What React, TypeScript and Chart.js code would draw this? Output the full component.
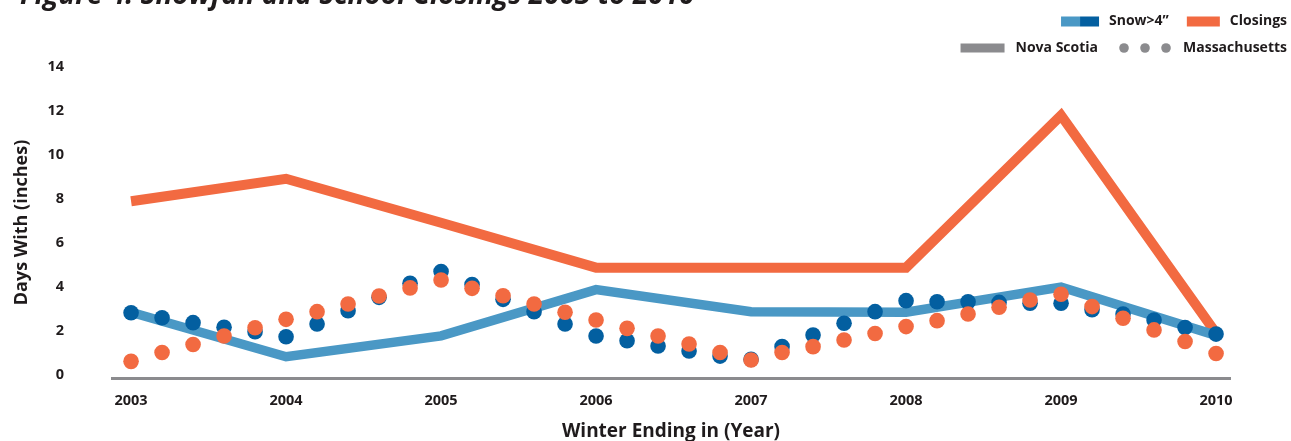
import React, { useEffect, useRef } from 'react';
import { Chart, registerables } from 'chart.js';

Chart.register(...registerables);

// ---------- data ----------
const TITLE = 'Figure 4: Snowfall and School Closings 2003 to 2010';
const Y_TITLE = 'Days With (inches)';
const X_TITLE = 'Winter Ending in (Year)';
const LEGEND_SERIES = ['Snow>4\u201D', 'Closings'];
const LEGEND_REGIONS = ['Nova Scotia', 'Massachusetts'];

const years = [2003, 2004, 2005, 2006, 2007, 2008, 2009, 2010];
const yTicks = [0, 2, 4, 6, 8, 10, 12, 14];

// Nova Scotia (one value per winter)
const nsSnow = [2.85, 0.83, 1.78, 3.88, 2.88, 2.85, 4.0, 1.8];
const nsClosings = [7.9, 8.92, 6.92, 4.88, 4.88, 4.88, 11.8, 1.9];

// Massachusetts (five readings per winter, 2003 .. 2010)
const maStep = 0.2;
const maSnow = [
  2.83, 2.6, 2.38, 2.17, 1.97, 1.74, 2.32, 2.92, 3.53, 4.17, 4.7, 4.11,
  3.44, 2.88, 2.32, 1.77, 1.56, 1.32, 1.09, 0.86, 0.71, 1.29, 1.82, 2.35,
  2.88, 3.38, 3.33, 3.33, 3.3, 3.26, 3.26, 2.97, 2.77, 2.5, 2.16, 1.86,
];
const maClosings = [
  0.62, 1.02, 1.39, 1.77, 2.15, 2.53, 2.88, 3.23, 3.59, 3.96, 4.32, 3.94,
  3.6, 3.23, 2.85, 2.5, 2.12, 1.77, 1.41, 1.02, 0.68, 1.02, 1.29, 1.59,
  1.89, 2.2, 2.47, 2.77, 3.08, 3.41, 3.67, 3.11, 2.58, 2.05, 1.52, 0.98,
];

// ---------- style ----------
const OY = 22; // canvas starts 22px above the page top
const W = 1291;
const H = 441 + OY;
const FONT = '"Open Sans", "Noto Sans", sans-serif';
const TEXT = '#1f1b1c';
const LIGHT_BLUE = '#4a98c5';
const DARK_BLUE = '#035fa0';
const ORANGE = '#f26a41';
const GRAY = '#8b8b8e';

const decorPlugin = {
  id: 'decor',
  afterDraw(chart: any) {
    const ctx: CanvasRenderingContext2D = chart.ctx;
    ctx.save();
    // title (cut off at the top of the page)
    ctx.font = `italic bold 28px ${FONT}`;
    ctx.fillStyle = TEXT;
    ctx.textAlign = 'left';
    ctx.textBaseline = 'alphabetic';
    ctx.fillText(TITLE, 20, 4 + OY);

    // legend
    ctx.font = `bold 14px ${FONT}`;
    ctx.textBaseline = 'middle';
    const right = 1287;
    // row 1
    const y1 = 21.5 + OY;
    const wClos = ctx.measureText(LEGEND_SERIES[1]).width;
    const closStart = right - wClos;
    ctx.fillStyle = TEXT;
    ctx.fillText(LEGEND_SERIES[1], closStart, y1);
    const oRight = closStart - 10;
    ctx.fillStyle = ORANGE;
    ctx.fillRect(oRight - 33, y1 - 5, 33, 10);
    const snowRight = oRight - 33 - 18;
    const wSnow = ctx.measureText(LEGEND_SERIES[0]).width;
    const snowStart = snowRight - wSnow;
    ctx.fillStyle = TEXT;
    ctx.fillText(LEGEND_SERIES[0], snowStart, y1);
    const bRight = snowStart - 10;
    ctx.fillStyle = DARK_BLUE;
    ctx.fillRect(bRight - 19, y1 - 5, 19, 10);
    ctx.fillStyle = LIGHT_BLUE;
    ctx.fillRect(bRight - 38, y1 - 5, 19, 10);

    // row 2
    const y2 = 48 + OY;
    const wMa = ctx.measureText(LEGEND_REGIONS[1]).width;
    const maStart = right - wMa;
    ctx.fillStyle = TEXT;
    ctx.fillText(LEGEND_REGIONS[1], maStart, y2);
    ctx.fillStyle = GRAY;
    for (let i = 0; i < 3; i++) {
      ctx.beginPath();
      ctx.arc(maStart - 17 - i * 21, y2, 4.8, 0, Math.PI * 2);
      ctx.fill();
    }
    const novaRight = maStart - 17 - 42 - 26;
    const wNova = ctx.measureText(LEGEND_REGIONS[0]).width;
    const novaStart = novaRight - wNova;
    ctx.fillStyle = TEXT;
    ctx.fillText(LEGEND_REGIONS[0], novaStart, y2);
    ctx.fillStyle = GRAY;
    ctx.fillRect(novaStart - 11 - 44, y2 - 4.5, 44, 9);
    ctx.restore();
  },
};

export default function App() {
  const ref = useRef<HTMLCanvasElement | null>(null);

  useEffect(() => {
    if (!ref.current) return;
    const maX = maSnow.map((_, i) => years[0] + i * maStep);
    const tickFont = { family: FONT, weight: 'bold' as const, size: 14.5 };

    const chart = new Chart(ref.current, {
      type: 'line',
      data: {
        datasets: [
          {
            label: 'Massachusetts Closings',
            data: maClosings.map((v, i) => ({ x: maX[i], y: v })),
            showLine: false,
            pointRadius: 7.8,
            pointBorderWidth: 0,
            pointBackgroundColor: ORANGE,
            pointBorderColor: ORANGE,
            order: 1,
          },
          {
            label: 'Massachusetts Snow>4',
            data: maSnow.map((v, i) => ({ x: maX[i], y: v })),
            showLine: false,
            pointRadius: 7.8,
            pointBorderWidth: 0,
            pointBackgroundColor: DARK_BLUE,
            pointBorderColor: DARK_BLUE,
            order: 2,
          },
          {
            label: 'Nova Scotia Snow>4',
            data: nsSnow.map((v, i) => ({ x: years[i], y: v })),
            borderColor: LIGHT_BLUE,
            borderWidth: 9.5,
            pointRadius: 0,
            tension: 0,
            order: 3,
          },
          {
            label: 'Nova Scotia Closings',
            data: nsClosings.map((v, i) => ({ x: years[i], y: v })),
            borderColor: ORANGE,
            borderWidth: 10,
            pointRadius: 0,
            tension: 0,
            order: 4,
          },
        ],
      },
      options: {
        animation: false,
        responsive: false,
        clip: false,
        layout: { padding: { top: 89, right: 61, left: 0, bottom: 0 } },
        plugins: {
          legend: { display: false },
          tooltip: { enabled: false },
          title: { display: false },
        },
        scales: {
          x: {
            type: 'linear',
            min: 2002.877,
            max: 2010.09,
            grid: { display: false, drawTicks: false },
            border: { display: true, color: GRAY, width: 3 },
            ticks: {
              padding: 14,
              font: tickFont,
              color: TEXT,
              autoSkip: false,
              maxRotation: 0,
              callback: (v: any) => String(v),
            },
            afterBuildTicks: (s: any) => {
              s.ticks = years.map((v) => ({ value: v }));
            },
            afterFit: (s: any) => {
              s.height = 63;
            },
            title: {
              display: true,
              text: X_TITLE,
              color: TEXT,
              font: { family: FONT, weight: 'bold', size: 19, lineHeight: 1 },
              padding: { top: 0, bottom: 0 },
            },
          },
          y: {
            type: 'linear',
            min: -0.136,
            max: 14,
            grid: { display: false, drawTicks: false },
            border: { display: false },
            ticks: {
              padding: 48,
              font: tickFont,
              color: TEXT,
              callback: (v: any) => String(v),
            },
            afterBuildTicks: (s: any) => {
              s.ticks = yTicks.map((v) => ({ value: v }));
            },
            afterFit: (s: any) => {
              s.width = 112;
            },
            title: {
              display: true,
              text: Y_TITLE,
              color: TEXT,
              font: { family: FONT, weight: 'bold', size: 18, lineHeight: 1.2 },
              padding: { top: 11, bottom: 0 },
            },
          },
        },
      },
      plugins: [decorPlugin],
    } as any);

    return () => chart.destroy();
  }, []);

  return (
    <div style={{ position: 'fixed', top: -OY, left: 0, width: W, height: H, background: '#fff' }}>
      <canvas ref={ref} width={W} height={H} style={{ display: 'block', width: W, height: H }} />
    </div>
  );
}
